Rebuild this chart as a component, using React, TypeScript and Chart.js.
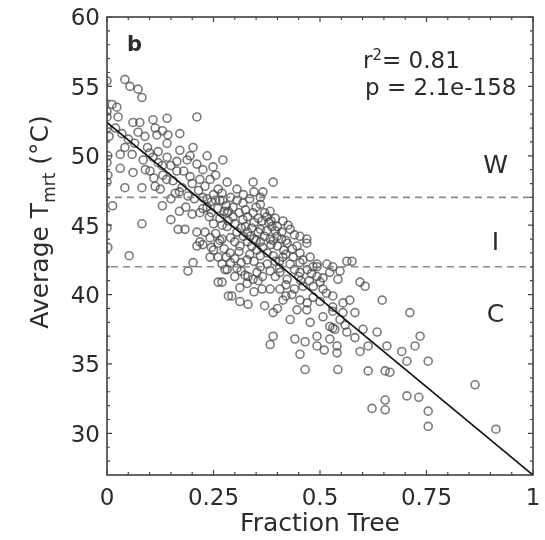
import { useEffect, useRef } from "react";
import { Chart, registerables } from "chart.js";

Chart.register(...registerables);

// ---- Data ----
const fractionTree = [
  0.000, 0.012, 0.023, 0.000, 0.000, 0.026, 0.000, 0.005, 0.002, 0.000,
  0.002, 0.000, 0.013, 0.000, 0.002, 0.042, 0.054, 0.073, 0.082, 0.061,
  0.077, 0.108, 0.141, 0.211, 0.113, 0.130, 0.073, 0.089, 0.117, 0.143,
  0.171, 0.141, 0.171, 0.202, 0.042, 0.031, 0.059, 0.085, 0.108, 0.141,
  0.164, 0.188, 0.235, 0.272, 0.211, 0.249, 0.031, 0.061, 0.101, 0.131,
  0.164, 0.195, 0.218, 0.242, 0.282, 0.042, 0.082, 0.113, 0.125, 0.176,
  0.261, 0.130, 0.052, 0.082, 0.150, 0.167, 0.183, 0.211, 0.218, 0.211,
  0.225, 0.242, 0.261, 0.261, 0.202, 0.190, 0.242, 0.277, 0.261, 0.285,
  0.218, 0.235, 0.020, 0.035, 0.050, 0.065, 0.095, 0.120, 0.150, 0.180,
  0.200, 0.155, 0.170, 0.190, 0.205, 0.225, 0.150, 0.185, 0.200, 0.170,
  0.110, 0.090, 0.130, 0.195, 0.225, 0.255, 0.230, 0.250, 0.270, 0.245,
  0.272, 0.305, 0.343, 0.390, 0.366, 0.360, 0.296, 0.319, 0.319, 0.343,
  0.383, 0.413, 0.430, 0.364, 0.387, 0.360, 0.453, 0.469, 0.446, 0.423,
  0.399, 0.383, 0.282, 0.305, 0.336, 0.312, 0.352, 0.376, 0.413, 0.437,
  0.453, 0.477, 0.493, 0.516, 0.563, 0.270, 0.289, 0.329, 0.376, 0.296,
  0.282, 0.290, 0.320, 0.335, 0.310, 0.330, 0.350, 0.370, 0.395, 0.340,
  0.355, 0.375, 0.400, 0.410, 0.425, 0.320, 0.300, 0.340, 0.360, 0.390,
  0.300, 0.315, 0.345, 0.360, 0.250, 0.265, 0.255, 0.275, 0.240, 0.260,
  0.280, 0.440, 0.460, 0.430, 0.405, 0.470,
  0.282, 0.270, 0.312, 0.293, 0.312, 0.331, 0.331, 0.364, 0.383, 0.406,
  0.413, 0.390, 0.430, 0.446, 0.469, 0.477, 0.453, 0.484, 0.507, 0.523,
  0.535, 0.547, 0.493, 0.390, 0.383, 0.441, 0.465, 0.493, 0.523, 0.540,
  0.540, 0.453, 0.465, 0.542, 0.343, 0.423, 0.453, 0.493, 0.523, 0.542,
  0.493, 0.270, 0.360, 0.383, 0.324, 0.406, 0.460, 0.484, 0.507, 0.530,
  0.554, 0.530, 0.559, 0.563, 0.352, 0.329, 0.434, 0.370, 0.400,
  0.575, 0.594, 0.606, 0.570, 0.646, 0.711, 0.554, 0.582, 0.601, 0.634,
  0.582, 0.613, 0.594, 0.657, 0.692, 0.723, 0.735, 0.704, 0.754, 0.613,
  0.653, 0.664, 0.704, 0.732, 0.653, 0.622, 0.653, 0.754, 0.754, 0.864,
  0.913, 0.500, 0.530, 0.530, 0.469, 0.510, 0.453, 0.484, 0.530, 0.547,
  0.507,
  0.215, 0.235, 0.265, 0.285, 0.305, 0.325, 0.345, 0.355, 0.380, 0.395,
  0.415, 0.435, 0.325, 0.345, 0.365, 0.385, 0.405, 0.420, 0.450, 0.475,
  0.345, 0.355, 0.395, 0.420, 0.300, 0.315, 0.290, 0.250, 0.230, 0.270,
  0.225, 0.245, 0.255, 0.275, 0.285, 0.300, 0.315, 0.330, 0.345, 0.360,
  0.375, 0.385, 0.400, 0.410, 0.420, 0.390, 0.370, 0.350, 0.330, 0.310,
  0.290, 0.265, 0.245, 0.280, 0.335, 0.395, 0.440, 0.455, 0.480, 0.500,
  0.515, 0.470, 0.440, 0.420, 0.365, 0.305, 0.160, 0.140, 0.120, 0.100,
];

const averageTmrt = [
  55.4, 53.7, 53.5, 53.2, 52.8, 52.8, 52.0, 51.4, 50.0, 49.5,
  48.6, 48.1, 46.4, 44.8, 43.4, 55.5, 55.0, 54.8, 54.2, 52.4,
  52.4, 52.6, 52.7, 52.8, 52.0, 51.8, 51.7, 51.4, 51.5, 51.5,
  51.6, 50.9, 50.4, 50.6, 50.6, 50.1, 50.1, 49.7, 49.9, 49.9,
  49.6, 49.7, 50.0, 49.7, 49.4, 49.2, 49.1, 48.8, 48.9, 48.6,
  48.9, 48.5, 48.3, 48.3, 48.1, 47.7, 47.7, 47.8, 47.6, 47.7,
  47.6, 46.4, 42.8, 45.1, 45.4, 44.7, 44.7, 44.5, 43.8, 43.5,
  43.6, 44.1, 43.7, 42.7, 42.3, 41.7, 42.7, 41.8, 40.9, 39.9,
  45.9, 46.3, 52.0, 51.6, 51.2, 50.9, 50.6, 50.3, 49.3, 48.9,
  48.0, 48.2, 47.4, 47.1, 46.9, 47.0, 46.9, 46.3, 45.8, 46.0,
  48.4, 49.0, 49.3, 50.0, 49.0, 48.6, 47.8, 47.2, 47.3, 46.7,
  46.8, 47.6, 48.1, 48.1, 47.4, 47.0, 46.3, 46.6, 45.4, 45.9,
  46.0, 45.3, 44.7, 45.3, 44.9, 44.7, 44.2, 43.7, 43.5, 43.7,
  44.2, 44.0, 44.9, 44.5, 44.2, 43.5, 43.2, 43.0, 42.7, 42.7,
  43.0, 42.7, 42.2, 42.2, 42.4, 44.0, 43.0, 42.5, 42.2, 45.6,
  45.9, 47.0, 47.2, 46.9, 45.9, 45.6, 46.3, 45.9, 45.5, 44.8,
  44.5, 44.6, 43.5, 44.0, 45.0, 44.2, 43.8, 43.5, 43.8, 42.8,
  42.6, 42.3, 42.4, 42.8, 45.1, 45.5, 44.4, 43.3, 45.6, 46.2,
  46.4, 44.3, 42.5, 42.2, 41.9, 41.8,
  41.8, 40.9, 40.5, 39.9, 39.5, 39.3, 41.3, 40.4, 40.4, 40.4,
  39.6, 38.7, 38.2, 38.9, 38.9, 38.0, 39.6, 39.8, 38.4, 37.7,
  37.5, 38.2, 37.0, 37.0, 36.4, 36.8, 36.6, 36.3, 36.8, 36.3,
  35.8, 35.7, 34.6, 34.6, 41.1, 41.1, 41.6, 41.3, 41.6, 41.1,
  42.0, 42.2, 42.0, 41.7, 41.4, 41.6, 40.6, 40.6, 40.4, 39.9,
  39.4, 39.1, 37.8, 37.3, 41.6, 40.8, 40.0, 39.2, 39.0,
  42.4, 40.9, 40.6, 39.6, 39.6, 38.7, 38.7, 38.7, 37.5, 37.3,
  36.9, 36.3, 35.9, 36.3, 35.9, 36.3, 37.0, 35.2, 35.2, 34.5,
  34.5, 34.4, 32.7, 32.6, 32.4, 31.8, 31.7, 31.6, 30.5, 33.5,
  30.3, 39.5, 38.8, 37.6, 44.0, 36.0, 42.3, 42.0, 42.0, 41.7,
  41.2,
  47.5, 46.9, 46.8, 46.0, 46.8, 46.1, 47.4, 45.5, 45.2, 44.6,
  43.2, 43.3, 44.9, 44.0, 43.4, 43.6, 42.4, 42.9, 41.3, 41.0,
  40.2, 41.0, 41.3, 40.7, 41.3, 41.7, 42.3, 43.2, 44.5, 45.0,
  46.2, 45.9, 46.8, 46.0, 45.3, 45.1, 44.8, 44.5, 45.2, 46.5,
  45.6, 45.3, 44.9, 44.5, 43.9, 43.9, 44.2, 43.9, 43.8, 43.1,
  44.1, 43.9, 43.4, 42.7, 42.9, 42.4, 41.8, 41.0, 41.5, 40.9,
  40.1, 39.4, 40.4, 39.9, 41.3, 41.9, 47.3, 48.3, 49.5, 50.2,
];

const fitX = [0, 1];
const fitY = [52.4, 27.0];

const warmThreshold = 47;
const coolThreshold = 42;

const xTicks = [0, 0.25, 0.5, 0.75, 1];
const xTickLabels = ["0", "0.25", "0.5", "0.75", "1"];
const yTicks = [30, 35, 40, 45, 50, 55, 60];
const yTickLabels = ["30", "35", "40", "45", "50", "55", "60"];
const xMinorTicks = [0.05, 0.1, 0.15, 0.2, 0.3, 0.35, 0.4, 0.45, 0.55, 0.6, 0.65, 0.7, 0.8, 0.85, 0.9, 0.95];
const yMinorTicks = [28, 29, 31, 32, 33, 34, 36, 37, 38, 39, 41, 42, 43, 44, 46, 47, 48, 49, 51, 52, 53, 54, 56, 57, 58, 59];

const zoneLabels = ["W", "I", "C"];
const panelLabel = "b";
const r2Text = "0.81";
const pText = "p = 2.1e-158";
const xTitle = "Fraction Tree";

// ---- Layout / style (kept apart from the data) ----
const FONT = "'DejaVu Sans', 'Liberation Sans', sans-serif";
const TEXT = "#2b2b2b";
const zoneBaselines = [48.78, 43.24, 37.99]; // y-values of label baselines
const zoneX = 0.912;

const framePlugin = {
  id: "frameAndText",
  afterDatasetsDraw(chart: any) {
    const { ctx, chartArea: a, scales } = chart;
    const xs = scales.x;
    const ys = scales.y;
    ctx.save();

    // frame
    ctx.strokeStyle = "#333";
    ctx.lineWidth = 1.5;
    ctx.strokeRect(a.left, a.top, a.right - a.left, a.bottom - a.top);

    // inward ticks on all sides
    ctx.lineWidth = 1.2;
    ctx.strokeStyle = "#444";
    ctx.beginPath();
    const xt = (v: number, len: number) => {
      const p = xs.getPixelForValue(v);
      ctx.moveTo(p, a.bottom);
      ctx.lineTo(p, a.bottom - len);
      ctx.moveTo(p, a.top);
      ctx.lineTo(p, a.top + len);
    };
    const yt = (v: number, len: number) => {
      const p = ys.getPixelForValue(v);
      ctx.moveTo(a.left, p);
      ctx.lineTo(a.left + len, p);
      ctx.moveTo(a.right, p);
      ctx.lineTo(a.right - len, p);
    };
    xTicks.forEach((v) => xt(v, 5));
    xMinorTicks.forEach((v) => xt(v, 3));
    yTicks.forEach((v) => yt(v, 5));
    yMinorTicks.forEach((v) => yt(v, 3));
    ctx.stroke();

    ctx.fillStyle = TEXT;

    // tick labels
    ctx.font = `23px ${FONT}`;
    ctx.textAlign = "center";
    ctx.textBaseline = "alphabetic";
    xTicks.forEach((v, i) => {
      ctx.fillText(xTickLabels[i], xs.getPixelForValue(v), a.bottom + 30);
    });
    ctx.textAlign = "right";
    yTicks.forEach((v, i) => {
      ctx.fillText(yTickLabels[i], a.left - 7, ys.getPixelForValue(v) + 8.4);
    });

    // x title
    ctx.textAlign = "center";
    ctx.font = `25px ${FONT}`;
    ctx.fillText(xTitle, (a.left + a.right) / 2, a.bottom + 56);

    // y title with subscript
    ctx.save();
    const big = `25px ${FONT}`;
    const small = `17px ${FONT}`;
    ctx.font = big;
    const w1 = ctx.measureText("Average T").width;
    const w3 = ctx.measureText(" (°C)").width;
    ctx.font = small;
    const w2 = ctx.measureText("mrt").width;
    const total = w1 + w2 + w3;
    ctx.translate(48, 222 + total / 2);
    ctx.rotate(-Math.PI / 2);
    ctx.textAlign = "left";
    ctx.font = big;
    ctx.fillText("Average T", 0, 0);
    ctx.font = small;
    ctx.fillText("mrt", w1, 7);
    ctx.font = big;
    ctx.fillText(" (°C)", w1 + w2, 0);
    ctx.restore();

    // panel label
    ctx.textAlign = "left";
    ctx.font = `bold 21px ${FONT}`;
    ctx.fillText(panelLabel, a.left + 20, a.top + 34);

    // statistics
    ctx.font = `23px ${FONT}`;
    const sx = a.left + 256;
    const sy = a.top + 51;
    ctx.fillText("r", sx, sy);
    const rw = ctx.measureText("r").width;
    ctx.font = `15px ${FONT}`;
    ctx.fillText("2", sx + rw, sy - 8);
    const sw = ctx.measureText("2").width;
    ctx.font = `23px ${FONT}`;
    ctx.fillText("= " + r2Text, sx + rw + sw, sy);
    ctx.fillText(pText, a.left + 258, a.top + 78);

    // zone labels
    ctx.font = `25px ${FONT}`;
    ctx.textAlign = "center";
    zoneLabels.forEach((t, i) => {
      ctx.fillText(t, xs.getPixelForValue(zoneX), ys.getPixelForValue(zoneBaselines[i]));
    });

    ctx.restore();
  },
};

export default function App() {
  const ref = useRef<HTMLCanvasElement>(null);
  useEffect(() => {
    document.body.style.margin = "0";
    const points = fractionTree.map((x, i) => ({ x, y: averageTmrt[i] }));
    const fit = fitX.map((x, i) => ({ x, y: fitY[i] }));
    const warm = [{ x: 0, y: warmThreshold }, { x: 1, y: warmThreshold }];
    const cool = [{ x: 0, y: coolThreshold }, { x: 1, y: coolThreshold }];
    const chart = new Chart(ref.current as HTMLCanvasElement, {
      type: "scatter",
      data: {
        datasets: [
          {
            data: fit,
            showLine: true,
            borderColor: "#111",
            borderWidth: 1.7,
            pointRadius: 0,
          },
          {
            data: warm,
            showLine: true,
            borderColor: "#8a8a8a",
            borderWidth: 1.6,
            borderDash: [7, 5],
            borderDashOffset: -8,
            pointRadius: 0,
          },
          {
            data: cool,
            showLine: true,
            borderColor: "#8a8a8a",
            borderWidth: 1.6,
            borderDash: [7, 5],
            borderDashOffset: -4,
            pointRadius: 0,
          },
          {
            data: points,
            pointStyle: "circle",
            pointRadius: 4,
            borderWidth: 1.6,
            borderColor: "rgba(70,70,70,0.72)",
            backgroundColor: "rgba(0,0,0,0)",
          },
        ],
      } as any,
      options: {
        responsive: false,
        animation: false,
        events: [],
        layout: { padding: { left: 107, right: 12, top: 17, bottom: 65 } },
        plugins: { legend: { display: false }, tooltip: { enabled: false } },
        scales: {
          x: { type: "linear", min: 0, max: 1, display: false },
          y: { type: "linear", min: 27, max: 60, display: false },
        },
      },
      plugins: [framePlugin],
    });
    return () => chart.destroy();
  }, []);
  return (
    <div style={{ width: 545, height: 540 }}>
      <canvas ref={ref} width={545} height={540} style={{ display: "block" }} />
    </div>
  );
}
